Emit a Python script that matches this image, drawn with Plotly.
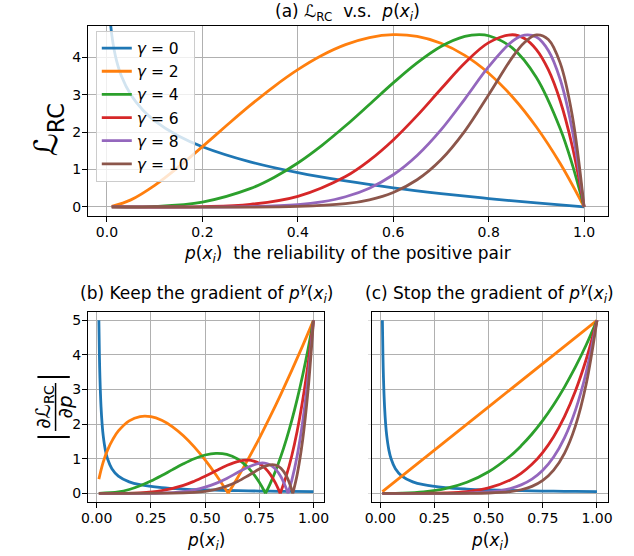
import plotly.graph_objects as go

# ---------------- data ----------------
GAMMA_LABELS = ["<i>γ</i> = 0", "<i>γ</i> = 2", "<i>γ</i> = 4", "<i>γ</i> = 6", "<i>γ</i> = 8", "<i>γ</i> = 10"]
COLORS = ["#1f77b4", "#ff7f0e", "#2ca02c", "#d62728", "#9467bd", "#8c564b"]

# (a) L_RC vs p(x_i)
A_P0 = [0.007, 0.01, 0.015, 0.02, 0.03, 0.05, 0.075, 0.1, 0.15, 0.2, 0.3, 0.4, 0.5, 0.6, 0.7, 0.8, 0.9, 1.0]
A_L0 = [4.96, 4.605, 4.200, 3.912, 3.507, 2.996, 2.590, 2.303, 1.897, 1.609, 1.204, 0.916, 0.693, 0.511, 0.357, 0.223, 0.105, 0.0]
A_P2 = [0.01, 0.05, 0.1, 0.15, 0.2, 0.25, 0.3, 0.35, 0.4, 0.45, 0.5, 0.55, 0.6, 0.65, 0.7, 0.75, 0.8, 0.85, 0.9, 0.95, 1.0]
A_L2 = [0.012, 0.188, 0.577, 1.069, 1.612, 2.169, 2.713, 3.219, 3.670, 4.048, 4.338, 4.527, 4.604, 4.557, 4.375, 4.051, 3.575, 2.940, 2.137, 1.159, 0.0]
A_P4 = [0.01, 0.1, 0.2, 0.3, 0.35, 0.4, 0.45, 0.5, 0.55, 0.6, 0.65, 0.7, 0.75, 0.78, 0.8, 0.85, 0.9, 0.95, 0.975, 1.0]
A_L4 = [0.0, 0.012, 0.129, 0.488, 0.789, 1.175, 1.640, 2.169, 2.739, 3.315, 3.850, 4.288, 4.558, 4.605, 4.576, 4.247, 3.461, 2.092, 1.146, 0.0]
A_P6 = [0.01, 0.2, 0.3, 0.4, 0.5, 0.55, 0.6, 0.65, 0.7, 0.75, 0.8, 0.85, 0.875, 0.9, 0.925, 0.95, 0.975, 1.0]
A_L6 = [0.0, 0.008, 0.066, 0.282, 0.813, 1.243, 1.790, 2.440, 3.152, 3.846, 4.392, 4.603, 4.501, 4.205, 3.668, 2.832, 1.634, 0.0]
A_P8 = [0.01, 0.3, 0.4, 0.45, 0.5, 0.55, 0.6, 0.65, 0.7, 0.75, 0.8, 0.85, 0.875, 0.9, 0.925, 0.95, 0.975, 1.0]
A_L8 = [0.0, 0.008, 0.060, 0.134, 0.271, 0.501, 0.859, 1.375, 2.059, 2.884, 3.748, 4.434, 4.595, 4.542, 4.184, 3.407, 2.071, 0.0]
A_P10 = [0.01, 0.4, 0.5, 0.55, 0.6, 0.65, 0.7, 0.75, 0.8, 0.85, 0.875, 0.9, 0.925, 0.95, 0.975, 1.0]
A_L10 = [0.0, 0.012, 0.085, 0.190, 0.387, 0.726, 1.261, 2.028, 2.999, 4.005, 4.397, 4.599, 4.475, 3.844, 2.460, 0.0]

# (b) keep the gradient of p^gamma  (None splits the curve at its zero)
B_P0 = [0.01, 0.0125, 0.015, 0.02, 0.025, 0.03, 0.04, 0.05, 0.07, 0.1, 0.15, 0.2, 0.3, 0.4, 0.5, 0.6, 0.7, 0.8, 0.9, 1.0]
B_G0 = [5.0, 4.0, 3.333, 2.5, 2.0, 1.667, 1.25, 1.0, 0.714, 0.5, 0.333, 0.25, 0.167, 0.125, 0.1, 0.083, 0.071, 0.063, 0.056, 0.05]
B_P2 = [0.01, 0.03, 0.05, 0.075, 0.1, 0.15, 0.2, 0.25, 0.3, 0.35, 0.4, 0.45, 0.5, 0.55, 0.6, 0.6065, None,
        0.6065, 0.65, 0.7, 0.75, 0.8, 0.85, 0.9, 0.95, 1.0]
B_G2 = [0.41, 0.902, 1.248, 1.567, 1.803, 2.096, 2.219, 2.216, 2.112, 1.924, 1.665, 1.343, 0.966, 0.538, 0.065, 0.0, None,
        0.0, 0.450, 1.003, 1.592, 2.215, 2.869, 3.552, 4.263, 5.0]
B_P4 = [0.01, 0.1, 0.15, 0.2, 0.25, 0.3, 0.35, 0.4, 0.45, 0.5, 0.55, 0.6, 0.65, 0.7, 0.725, 0.75, 0.775, 0.7788, None,
        0.7788, 0.8, 0.825, 0.85, 0.875, 0.9, 0.925, 0.95, 0.975, 1.0]
B_G4 = [0.0, 0.041, 0.111, 0.218, 0.355, 0.515, 0.686, 0.853, 1.000, 1.108, 1.157, 1.127, 0.993, 0.732, 0.546, 0.318, 0.046, 0.0, None,
        0.0, 0.275, 0.647, 1.075, 1.561, 2.109, 2.723, 3.407, 4.165, 5.0]
B_P6 = [0.01, 0.2, 0.3, 0.4, 0.45, 0.5, 0.55, 0.6, 0.65, 0.7, 0.725, 0.75, 0.775, 0.8, 0.825, 0.8465, None,
        0.8465, 0.85, 0.875, 0.9, 0.925, 0.95, 0.975, 1.0]
B_G6 = [0.0, 0.014, 0.076, 0.230, 0.350, 0.494, 0.651, 0.803, 0.920, 0.958, 0.931, 0.862, 0.740, 0.555, 0.295, 0.0, None,
        0.0, 0.055, 0.510, 1.086, 1.802, 2.678, 3.736, 5.0]
B_P8 = [0.01, 0.3, 0.4, 0.45, 0.5, 0.55, 0.6, 0.65, 0.7, 0.75, 0.775, 0.8, 0.825, 0.85, 0.875, 0.8825, None,
        0.8825, 0.9, 0.925, 0.95, 0.975, 1.0]
B_G8 = [0.0, 0.009, 0.052, 0.101, 0.178, 0.288, 0.432, 0.600, 0.763, 0.869, 0.872, 0.823, 0.701, 0.481, 0.134, 0.0, None,
        0.0, 0.376, 1.090, 2.059, 3.340, 5.0]
B_P10 = [0.01, 0.4, 0.45, 0.5, 0.55, 0.6, 0.65, 0.7, 0.75, 0.775, 0.8, 0.825, 0.85, 0.875, 0.9, 0.9048, None,
         0.9048, 0.925, 0.95, 0.975, 1.0]
B_G10 = [0.0, 0.011, 0.026, 0.058, 0.115, 0.207, 0.343, 0.518, 0.705, 0.781, 0.826, 0.818, 0.724, 0.504, 0.104, 0.0, None,
         0.0, 0.546, 1.535, 2.973, 5.0]

# (c) stop the gradient of p^gamma
C_P0 = [0.01, 0.0125, 0.015, 0.02, 0.025, 0.03, 0.04, 0.05, 0.07, 0.1, 0.15, 0.2, 0.3, 0.4, 0.5, 0.6, 0.7, 0.8, 0.9, 1.0]
C_G0 = [5.0, 4.0, 3.333, 2.5, 2.0, 1.667, 1.25, 1.0, 0.714, 0.5, 0.333, 0.25, 0.167, 0.125, 0.1, 0.083, 0.071, 0.063, 0.056, 0.05]
C_P2 = [0.01, 0.5, 1.0]
C_G2 = [0.05, 2.5, 5.0]
C_P = [0.01, 0.1, 0.2, 0.3, 0.4, 0.5, 0.6, 0.65, 0.7, 0.75, 0.8, 0.85, 0.9, 0.95, 1.0]
C_G4 = [0.0, 0.005, 0.04, 0.135, 0.32, 0.625, 1.08, 1.373, 1.715, 2.109, 2.56, 3.071, 3.645, 4.287, 5.0]
C_G6 = [0.0, 0.0, 0.002, 0.012, 0.051, 0.156, 0.389, 0.580, 0.840, 1.187, 1.638, 2.219, 2.952, 3.869, 5.0]
C_G8 = [0.0, 0.0, 0.0, 0.001, 0.008, 0.039, 0.140, 0.245, 0.412, 0.667, 1.049, 1.603, 2.391, 3.492, 5.0]
C_G10 = [0.0, 0.0, 0.0, 0.0, 0.001, 0.010, 0.050, 0.104, 0.202, 0.375, 0.671, 1.158, 1.937, 3.151, 5.0]

TOP_XTICKS = [0.0, 0.2, 0.4, 0.6, 0.8, 1.0]
TOP_XTICKTEXT = ["0.0", "0.2", "0.4", "0.6", "0.8", "1.0"]
TOP_YTICKS = [0, 1, 2, 3, 4]
BOT_XTICKS = [0.0, 0.25, 0.5, 0.75, 1.0]
BOT_XTICKTEXT = ["0.00", "0.25", "0.50", "0.75", "1.00"]
BOT_YTICKS = [0, 1, 2, 3, 4, 5]

FONT = "DejaVu Sans"
W, H = 634, 556
LW = 2.8

fig = go.Figure()

top_sets = [(A_P0, A_L0), (A_P2, A_L2), (A_P4, A_L4), (A_P6, A_L6), (A_P8, A_L8), (A_P10, A_L10)]
for (px, py), name, col in zip(top_sets, GAMMA_LABELS, COLORS):
    fig.add_trace(go.Scatter(x=px, y=py, mode="lines", name=name, xaxis="x", yaxis="y",
                             line=dict(color=col, width=LW, shape="spline"), showlegend=True))

b_sets = [(B_P0, B_G0), (B_P2, B_G2), (B_P4, B_G4), (B_P6, B_G6), (B_P8, B_G8), (B_P10, B_G10)]
for (px, py), col in zip(b_sets, COLORS):
    fig.add_trace(go.Scatter(x=px, y=py, mode="lines", xaxis="x2", yaxis="y2", connectgaps=False,
                             line=dict(color=col, width=LW, shape="spline"), showlegend=False))

c_sets = [(C_P0, C_G0), (C_P2, C_G2), (C_P, C_G4), (C_P, C_G6), (C_P, C_G8), (C_P, C_G10)]
for (px, py), col in zip(c_sets, COLORS):
    fig.add_trace(go.Scatter(x=px, y=py, mode="lines", xaxis="x3", yaxis="y3",
                             line=dict(color=col, width=LW, shape="spline"), showlegend=False))

# ---------------- layout ----------------
def px_x(v):
    return v / W

def px_y(v):
    return 1 - v / H

TOP_DOM_X = [px_x(82.7), px_x(612.3)]
TOP_DOM_Y = [px_y(215.7), px_y(25.7)]
B_DOM_X = [px_x(82.7), px_x(323.3)]
C_DOM_X = [px_x(371.7), px_x(612.3)]
BOT_DOM_Y = [px_y(502.0), px_y(311.7)]

axis_common = dict(showline=True, mirror=True, linecolor="black", linewidth=1.1,
                   showgrid=True, gridcolor="#b0b0b0", gridwidth=1.1, zeroline=False,
                   ticks="outside", ticklen=5, tickwidth=1.1, tickcolor="black",
                   tickfont=dict(family=FONT, size=14, color="black"), ticklabelstandoff=-2)

fig.update_layout(
    width=W, height=H, autosize=False,
    margin=dict(l=0, r=0, t=0, b=0),
    paper_bgcolor="white", plot_bgcolor="white",
    font=dict(family=FONT, size=14, color="black"),
    xaxis=dict(domain=TOP_DOM_X, range=[-0.0395, 1.0495], tickvals=TOP_XTICKS, ticktext=TOP_XTICKTEXT,
               anchor="y", **axis_common),
    yaxis=dict(domain=TOP_DOM_Y, range=[-0.235, 4.845], tickvals=TOP_YTICKS, anchor="x", **axis_common),
    xaxis2=dict(domain=B_DOM_X, range=[-0.0395, 1.0495], tickvals=BOT_XTICKS, ticktext=BOT_XTICKTEXT,
                anchor="y2", **axis_common),
    yaxis2=dict(domain=BOT_DOM_Y, range=[-0.25, 5.25], tickvals=BOT_YTICKS, anchor="x2", **axis_common),
    xaxis3=dict(domain=C_DOM_X, range=[-0.0395, 1.0495], tickvals=BOT_XTICKS, ticktext=BOT_XTICKTEXT,
                anchor="y3", **axis_common),
    yaxis3=dict(domain=BOT_DOM_Y, range=[-0.25, 5.25], tickvals=BOT_YTICKS, anchor="x3",
                **{**axis_common, "showticklabels": False, "tickcolor": "#dddddd", "ticklen": 3}),
    legend=dict(x=px_x(90.5), y=px_y(30.5), xanchor="left", yanchor="top",
                bgcolor="rgba(255,255,255,0.8)", bordercolor="#cccccc", borderwidth=1,
                font=dict(family=FONT, size=15.5, color="black"), itemwidth=30, tracegroupgap=0),
    showlegend=True,
)

ann = []
def text_ann(text, x, y, size, angle=0, xanchor="center", yanchor="middle"):
    ann.append(dict(text=text, x=x, y=y, xref="paper", yref="paper", showarrow=False,
                    font=dict(family=FONT, size=size, color="black"), textangle=angle,
                    xanchor=xanchor, yanchor=yanchor))

# titles
text_ann("(a) ℒ<sub>RC</sub>\u00a0 v.s.\u00a0 <i>p</i>(<i>x<sub>i</sub></i>)", px_x(347.5), px_y(12.5), 17)
text_ann("(b) Keep the gradient of <i>p</i><sup><i>γ</i></sup>(<i>x<sub>i</sub></i>)", px_x(203), px_y(293), 17)
text_ann("(c) Stop the gradient of <i>p</i><sup><i>γ</i></sup>(<i>x<sub>i</sub></i>)", px_x(492), px_y(293), 17)
# x labels
text_ann("<i>p</i>(<i>x<sub>i</sub></i>)\u00a0 the reliability of the positive pair", px_x(347.5), px_y(254), 17)
text_ann("<i>p</i>(<i>x<sub>i</sub></i>)", px_x(203), px_y(541), 17)
text_ann("<i>p</i>(<i>x<sub>i</sub></i>)", px_x(492), px_y(541), 17)
# y label (a)
text_ann("ℒ<sub>RC</sub>", px_x(42), px_y(130), 32, angle=-90)
# y label (b): |dL/dp| built from rotated pieces
text_ann("∂ℒ<sub>RC</sub>", px_x(37), px_y(406.5), 20, angle=-90)
text_ann("∂<i>p</i>", px_x(59), px_y(406.5), 20, angle=-90)

fig.update_layout(annotations=ann)

shapes = [
    dict(type="line", xref="paper", yref="paper", x0=px_x(49.5), x1=px_x(49.5), y0=px_y(383), y1=px_y(431),
         line=dict(color="black", width=1.5)),
    dict(type="line", xref="paper", yref="paper", x0=px_x(31), x1=px_x(64), y0=px_y(377), y1=px_y(377),
         line=dict(color="black", width=2.2)),
    dict(type="line", xref="paper", yref="paper", x0=px_x(31), x1=px_x(64), y0=px_y(437), y1=px_y(437),
         line=dict(color="black", width=2.2)),
]
fig.update_layout(shapes=shapes)

fig.write_html("out.html", config={"displayModeBar": False},
               post_script="document.body.style.margin='0px';document.body.style.padding='0px';")
